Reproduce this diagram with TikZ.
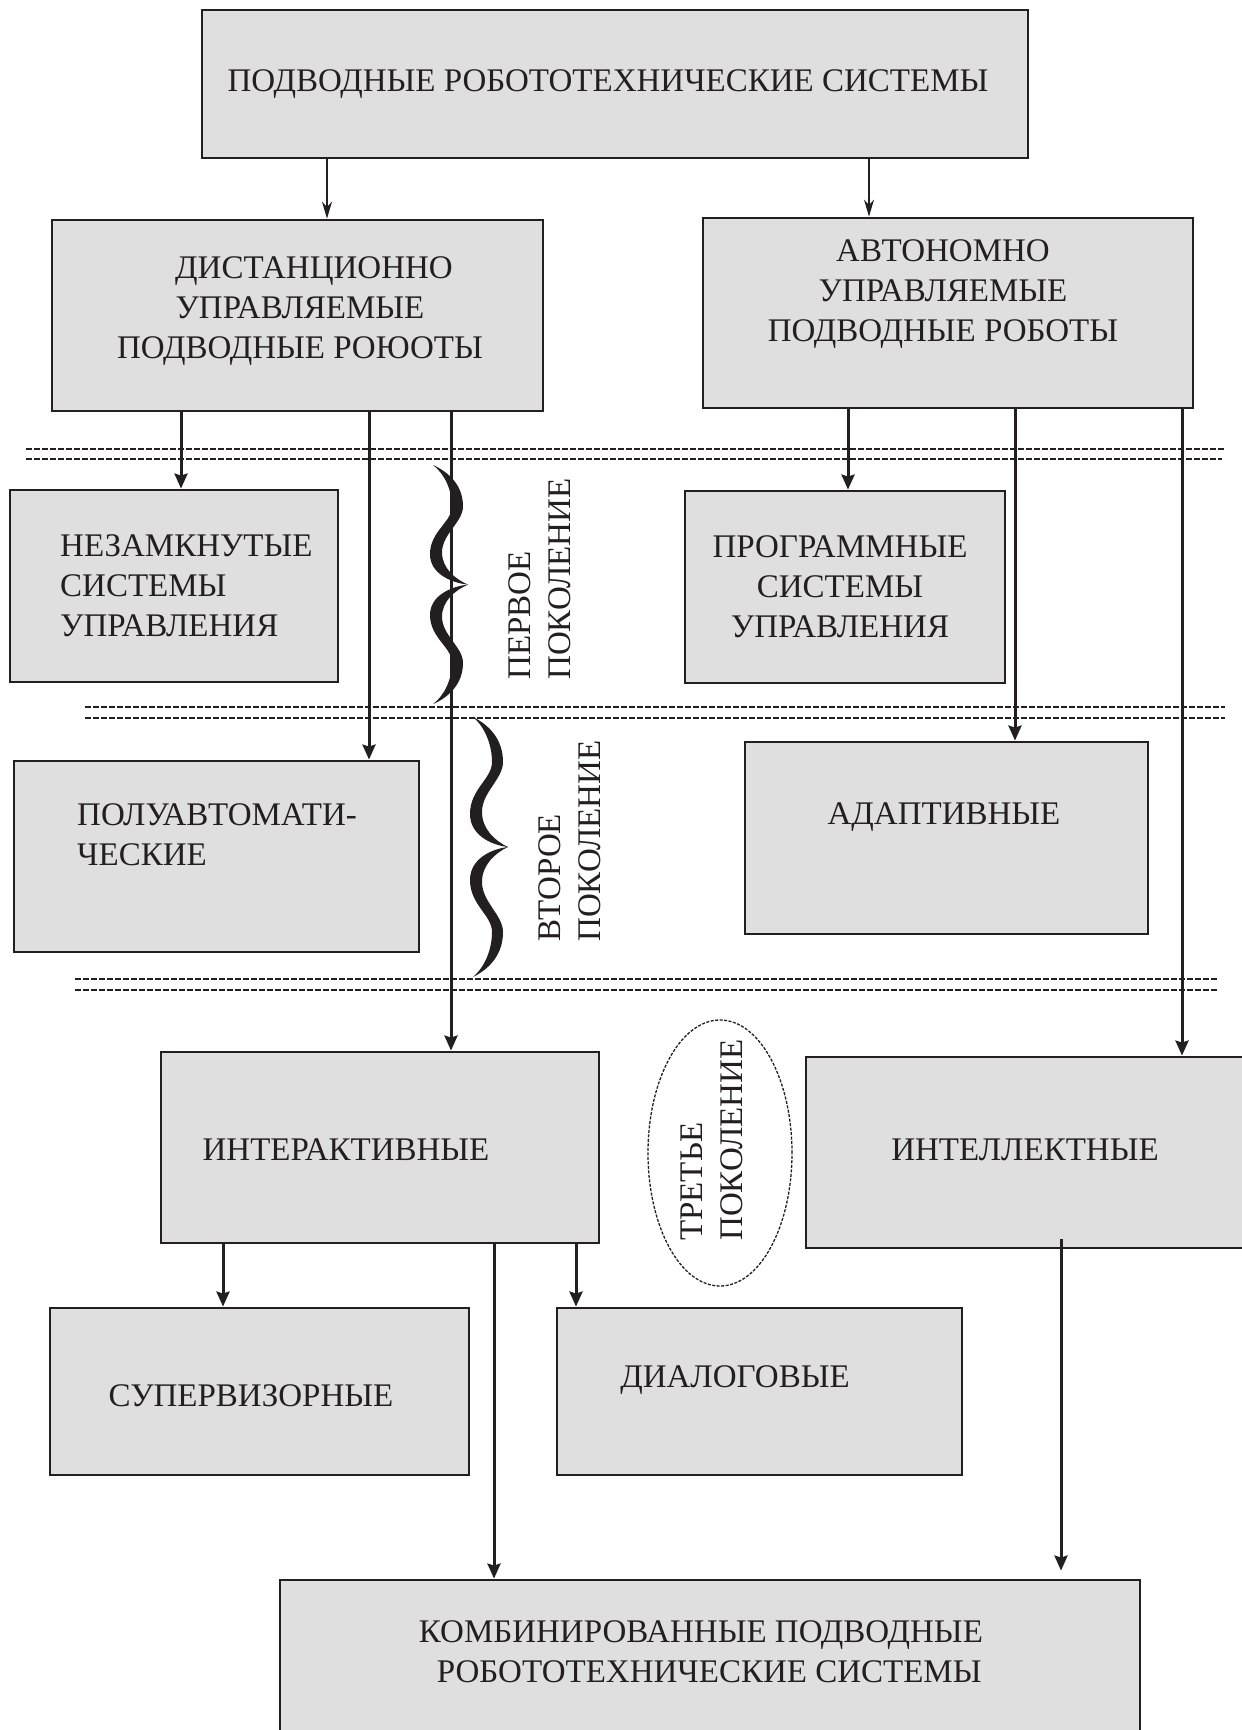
\documentclass[tikz,border=0pt]{standalone}
\usepackage{fontspec}
\setmainfont{Liberation Serif}
\usetikzlibrary{arrows.meta,calc,shapes.geometric}
\definecolor{boxfill}{HTML}{DFDFDF}
\definecolor{edge}{HTML}{231F20}

\begin{document}
\begin{tikzpicture}[
  x=1pt, y=-1pt,
  >={Stealth[length=15pt, width=13pt, inset=2pt]},
  box/.style={draw=edge, line width=2.8pt, fill=boxfill, inner sep=0pt},
  lbl/.style={font=\fontsize{33}{40}\selectfont, text=edge, align=center, inner sep=0pt},
  arr/.style={->, line width=3pt, draw=edge},
  thinarr/.style={-{Stealth[length=17pt, width=10pt]}, line width=1.3pt, draw=edge},
  sep/.style={line width=1.5pt, draw=edge, dash pattern=on 6pt off 2pt},
  brace/.style={fill=edge},
]

\path[use as bounding box, fill=white] (0,0) rectangle (1242,1730);

\node[box, minimum width=826pt, minimum height=148pt] (top) at (615,84) {};
\node[lbl] (topT) at (608,84) {ПОДВОДНЫЕ РОБОТОТЕХНИЧЕСКИЕ СИСТЕМЫ};

\node[box, minimum width=491pt, minimum height=191pt] (dist) at (297.5,315.5) {};
\node[lbl] (distT) at (300,311) {\hspace*{28pt}ДИСТАНЦИОННО\\УПРАВЛЯЕМЫЕ\\ПОДВОДНЫЕ РОЮОТЫ};

\node[box, minimum width=490pt, minimum height=190pt] (auto) at (948,313) {};
\node[lbl] (autoT) at (943,294) {АВТОНОМНО\\УПРАВЛЯЕМЫЕ\\ПОДВОДНЫЕ РОБОТЫ};

\node[box, minimum width=328pt, minimum height=192pt] (nezam) at (174,586) {};
\node[lbl, align=left, anchor=west] (nezamT) at (60,586) {НЕЗАМКНУТЫЕ\\СИСТЕМЫ\\УПРАВЛЕНИЯ};

\node[box, minimum width=320pt, minimum height=192pt] (prog) at (845,587) {};
\node[lbl] (progT) at (840,587) {ПРОГРАММНЫЕ\\СИСТЕМЫ\\УПРАВЛЕНИЯ};

\node[box, minimum width=405pt, minimum height=191pt] (pol) at (216.5,856.5) {};
\node[lbl, align=left, anchor=west] (polT) at (77,835) {ПОЛУАВТОМАТИ-\\ЧЕСКИЕ};

\node[box, minimum width=403pt, minimum height=192pt] (adapt) at (946.5,838) {};
\node[lbl] (adaptT) at (944,817) {АДАПТИВНЫЕ};

\node[box, minimum width=438pt, minimum height=191pt] (inter) at (380,1147.5) {};
\node[lbl] (interT) at (346,1150) {ИНТЕРАКТИВНЫЕ};

\node[box, minimum width=444pt, minimum height=191pt] (intell) at (1028,1152.5) {};
\node[lbl] (intellT) at (1025,1150) {ИНТЕЛЛЕКТНЫЕ};

\node[box, minimum width=419pt, minimum height=167pt] (sup) at (259.5,1391.5) {};
\node[lbl] (supT) at (251,1396) {СУПЕРВИЗОРНЫЕ};

\node[box, minimum width=405pt, minimum height=167pt] (dial) at (759.5,1391.5) {};
\node[lbl] (dialT) at (735,1380) {ДИАЛОГОВЫЕ};

\node[box, minimum width=860pt, minimum height=210pt] (comb) at (710,1685) {};
\node[lbl] (combT) at (701,1652) {КОМБИНИРОВАННЫЕ ПОДВОДНЫЕ\\\ \ РОБОТОТЕХНИЧЕСКИЕ СИСТЕМЫ};

\foreach \y/\xa/\xb in {449/26/1225, 459/26/1222, 707/85/1225, 718/85/1225, 979/75/1218, 990/75/1218} {
  \draw[sep] (\xa,\y) -- (\xb,\y);
}

\foreach \bx/\by/\bs in {433/465/0.92, 473/717/1} {
  \foreach \half in {1,-1} {
    \fill[brace, shift={(\bx,\by)}, yscale=\bs, shift={(0,130)}, yscale=\half, shift={(0,-130)}]
      (0,0) .. controls (16,8) and (30,22) .. (30,45)
      .. controls (30,62) and (9,75) .. (9,95)
      .. controls (9,112) and (22,124) .. (35,130)
      .. controls (18,128) and (-3,118) .. (-3,97)
      .. controls (-3,72) and (19,62) .. (19,45)
      .. controls (19,28) and (12,10) .. (0,0) -- cycle;
  }
}

\node[lbl, rotate=90, align=left] (gen1) at (540,579) {ПЕРВОЕ\\ПОКОЛЕНИЕ};
\node[lbl, rotate=90, align=left] (gen2) at (570,841) {ВТОРОЕ\\ПОКОЛЕНИЕ};
\node[ellipse, draw=edge, line width=1.3pt, dash pattern=on 3pt off 1.5pt,
      minimum width=144pt, minimum height=266pt] (gen3ring) at (720,1153) {};
\node[lbl, rotate=90, align=left] (gen3) at (712,1140) {ТРЕТЬЕ\\ПОКОЛЕНИЕ};

\draw[thinarr] (top.south -| 327,0) -- (dist.north -| 327,0);
\draw[thinarr] (top.south -| 869,0) -- (auto.north -| 869,0);
\draw[arr] (dist.south -| 181,0) -- (nezam.north -| 181,0);
\draw[arr] (dist.south -| 369,0) -- (pol.north -| 369,0);
\draw[arr] (dist.south -| 451,0) -- (inter.north -| 451,0);
\draw[arr] (auto.south -| 848,0) -- (prog.north -| 848,0);
\draw[arr] (auto.south -| 1015,0) -- (adapt.north -| 1015,0);
\draw[arr] (auto.south -| 1182,0) -- (intell.north -| 1182,0);
\draw[arr] (inter.south -| 223,0) -- (sup.north -| 223,0);
\draw[arr] (inter.south -| 576,0) -- (dial.north -| 576,0);
\draw[arr] (inter.south -| 494,0) -- (comb.north -| 494,0);
\draw[arr] ($(intell.south -| 1061,0)+(0,-10)$) -- ($(comb.north -| 1061,0)+(0,-8)$);

\end{tikzpicture}
\end{document}
